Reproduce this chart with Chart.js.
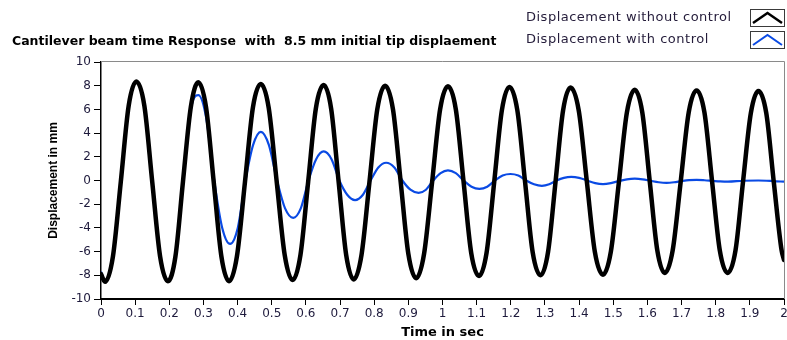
<!DOCTYPE html>
<html>
<head>
<meta charset="utf-8">
<script src="https://cdn.jsdelivr.net/npm/chart.js@4/dist/chart.umd.min.js"></script>
<style>
html,body{margin:0;padding:0;background:#ffffff;}
#wrap{position:relative;width:787px;height:340px;overflow:hidden;background:#fff;}
#c{position:absolute;left:0;top:0;}
.leg{position:absolute;font-family:"DejaVu Sans";font-size:13px;letter-spacing:0.5px;color:#241c3a;white-space:pre;line-height:16px;}
.icon{position:absolute;}
</style>
</head>
<body>
<div id="wrap"><canvas id="c" width="787" height="340"></canvas></div>
<script>
// ---- data ----
const titleText = 'Cantilever beam time Response  with  8.5 mm initial tip displaement';
const xTitle = 'Time in sec';
const yTitle = 'Displacement in mm';
const seriesNames = ['Displacement without control', 'Displacement with control'];
const seriesColors = ['#000000', '#0a4ae4'];

const xTickLabels = ['0','0.1','0.2','0.3','0.4','0.5','0.6','0.7','0.8','0.9','1','1.1','1.2','1.3','1.4','1.5','1.6','1.7','1.8','1.9','2'];
const yTickLabels = ['-10','-8','-6','-4','-2','0','2','4','6','8','10'];

// without control (time s, displacement mm)
const blackT = [0, 0.012,
  0.035, 0.058, 0.081, 0.1035,
  0.127, 0.150, 0.173, 0.196,
  0.218, 0.240, 0.263, 0.285,
  0.3075, 0.330, 0.3525, 0.375,
  0.398, 0.4215, 0.445, 0.468,
  0.491, 0.5145, 0.538, 0.561,
  0.584, 0.6065, 0.629, 0.652,
  0.674, 0.696, 0.718, 0.740,
  0.763, 0.786, 0.809, 0.832,
  0.855, 0.8775, 0.900, 0.923,
  0.946, 0.9695, 0.993, 1.016,
  1.039, 1.0615, 1.084, 1.107,
  1.129, 1.1515, 1.174, 1.196,
  1.219, 1.2415, 1.264, 1.287,
  1.309, 1.331, 1.353, 1.375,
  1.399, 1.4225, 1.446, 1.470,
  1.493, 1.5165, 1.540, 1.563,
  1.585, 1.607, 1.629, 1.651,
  1.674, 1.6975, 1.721, 1.744,
  1.767, 1.7895, 1.812, 1.835,
  1.858, 1.880, 1.903, 1.925,
  1.948, 1.970, 1.993, 2.0];
const blackY = [-7.9, -8.55,
  -6.4, -0.1, 6.3, 8.35,
  6.3, -0.1, -6.4, -8.5,
  -6.4, -0.1, 6.2, 8.3,
  6.2, -0.1, -6.4, -8.5,
  -6.4, -0.15, 6.2, 8.15,
  6.15, -0.1, -6.3, -8.4,
  -6.3, -0.15, 6.05, 8.05,
  6.05, -0.15, -6.3, -8.35,
  -6.25, -0.15, 6.0, 8.0,
  6.0, -0.1, -6.2, -8.25,
  -6.2, -0.15, 6.0, 7.95,
  6.0, -0.05, -6.1, -8.05,
  -6.1, -0.1, 5.95, 7.9,
  5.95, -0.05, -6.05, -8.0,
  -6.05, -0.1, 5.9, 7.85,
  5.9, -0.05, -6.0, -7.95,
  -6.0, -0.15, 5.75, 7.65,
  5.75, -0.1, -5.9, -7.8,
  -5.9, -0.1, 5.75, 7.6,
  5.75, -0.1, -5.9, -7.8,
  -5.9, -0.1, 5.7, 7.55,
  5.7, -0.1, -5.9, -6.7];

// with control (time s, displacement mm)
const blueT = [0, 0.012,
  0.035, 0.058, 0.081, 0.1035,
  0.127, 0.150, 0.173, 0.196,
  0.218, 0.240, 0.263, 0.285,
  0.308, 0.3315, 0.355, 0.378,
  0.4005, 0.423, 0.4455, 0.468,
  0.4915, 0.5155, 0.539, 0.563,
  0.585, 0.6075, 0.630, 0.652,
  0.675, 0.698, 0.721, 0.744,
  0.767, 0.7895, 0.812, 0.835,
  0.859, 0.8825, 0.906, 0.930,
  0.9515, 0.973, 0.9945, 1.016,
  1.039, 1.062, 1.085, 1.108,
  1.131, 1.1535, 1.176, 1.199,
  1.222, 1.245, 1.268, 1.291,
  1.3125, 1.334, 1.3555, 1.377,
  1.400, 1.4235, 1.447, 1.470,
  1.493, 1.5165, 1.540, 1.563,
  1.586, 1.6095, 1.633, 1.656,
  1.678, 1.700, 1.722, 1.744,
  1.767, 1.790, 1.813, 1.836,
  1.880, 1.925, 1.970, 2.0];
const blueY = [-7.7, -8.55,
  -6.4, -0.1, 6.3, 8.35,
  6.3, -0.1, -6.4, -8.5,
  -6.4, -0.1, 6.0, 7.2,
  5.3, 0, -4.0, -5.35,
  -4.0, 0, 3.0, 4.1,
  3.0, 0, -2.35, -3.15,
  -2.35, 0, 1.8, 2.45,
  1.8, 0, -1.2, -1.65,
  -1.2, 0, 1.1, 1.5,
  1.1, 0, -0.78, -1.05,
  -0.78, 0, 0.62, 0.85,
  0.62, 0, -0.52, -0.7,
  -0.52, 0, 0.42, 0.55,
  0.42, 0, -0.32, -0.45,
  -0.32, 0, 0.22, 0.3,
  0.22, 0, -0.22, -0.3,
  -0.22, -0.05, 0.1, 0.15,
  0.1, -0.03, -0.15, -0.2,
  -0.15, -0.05, 0.03, 0.05,
  0.02, -0.03, -0.08, -0.1,
  -0.02, 0.0, -0.05, -0.1];

// ---- chart ----
Chart.defaults.font.family = 'DejaVu Sans';

const framePlugin = {
  id: 'frame',
  beforeDatasetsDraw(chart) {
    const {ctx, chartArea: a} = chart;
    ctx.save();
    ctx.strokeStyle = '#8a8a8a';
    ctx.lineWidth = 1;
    ctx.beginPath();
    ctx.moveTo(a.left, a.top - 0.5);
    ctx.lineTo(a.right + 0.5, a.top - 0.5);
    ctx.lineTo(a.right + 0.5, a.bottom);
    ctx.stroke();
    ctx.restore();
  }
};

const toPoints = (ts, ys) => ts.map((t, i) => ({x: t, y: ys[i]}));

const chart = new Chart(document.getElementById('c'), {
  type: 'line',
  data: {
    datasets: [
      { label: seriesNames[0], data: toPoints(blackT, blackY), borderColor: seriesColors[0],
        borderWidth: 4.5, pointRadius: 0, cubicInterpolationMode: 'monotone', fill: false,
        borderJoinStyle: 'round', borderCapStyle: 'round' },
      { label: seriesNames[1], data: toPoints(blueT, blueY), borderColor: seriesColors[1],
        borderWidth: 2.2, pointRadius: 0, cubicInterpolationMode: 'monotone', fill: false }
    ]
  },
  options: {
    responsive: false,
    animation: false,
    devicePixelRatio: 1,
    layout: { padding: { left: 12, right: 0, top: 0, bottom: 0 } },
    plugins: {
      legend: { display: false },
      tooltip: { enabled: false },
      title: {
        display: true, text: titleText, align: 'start', color: '#000',
        font: { family: 'DejaVu Sans', size: 12.5, weight: 'bold' },
        padding: { top: 34, bottom: 13 }
      }
    },
    scales: {
      x: {
        type: 'linear', min: 0, max: 2,
        ticks: { stepSize: 0.1, autoSkip: false, maxRotation: 0, color: '#1e1a3c',
          font: { size: 12 }, padding: 2,
          callback: v => xTickLabels[Math.round(v * 10)] },
        grid: { drawOnChartArea: false, drawTicks: true, tickLength: 6, color: '#000' },
        border: { display: true, color: '#000', width: 2 },
        title: { display: true, text: xTitle, color: '#000',
          font: { size: 13, weight: 'bold' }, padding: { top: 0, bottom: 0 } },
        afterFit: s => { s.height = 41; s.paddingRight = 3; s.paddingLeft = 0; }
      },
      y: {
        min: -10, max: 10,
        ticks: { stepSize: 2, color: '#1e1a3c', font: { size: 12 }, padding: 3,
          callback: v => yTickLabels[Math.round((v + 10) / 2)] },
        grid: { drawOnChartArea: false, drawTicks: true, tickLength: 7, color: '#000' },
        border: { display: true, color: '#000', width: 1.5 },
        title: { display: true, text: yTitle, color: '#000',
          font: { family: 'Liberation Sans', size: 12, weight: 'bold' }, padding: { top: 34, bottom: 0 } },
        afterFit: s => { s.width = 89; }
      }
    }
  },
  plugins: [framePlugin]
});

// ---- legend (top right, text then icon) ----
const wrap = document.getElementById('wrap');
chart.data.datasets.forEach((ds, i) => {
  const top = 9 + i * 22;
  const t = document.createElement('div');
  t.className = 'leg';
  t.style.left = '526px';
  t.style.top = top + 'px';
  t.textContent = ds.label;
  wrap.appendChild(t);
  const ic = document.createElement('div');
  ic.className = 'icon';
  ic.style.left = '750px';
  ic.style.top = top + 'px';
  ic.innerHTML = '<svg width="35" height="18" xmlns="http://www.w3.org/2000/svg">' +
    '<rect x="0.5" y="0.5" width="34" height="17" fill="#fff" stroke="#3a3a3a"/>' +
    '<polyline points="3,14 17.5,4 32,14" fill="none" stroke="' + seriesColors[i] +
    '" stroke-width="' + (i === 0 ? 2.5 : 2) + '"/></svg>';
  wrap.appendChild(ic);
});
</script>
</body>
</html>
